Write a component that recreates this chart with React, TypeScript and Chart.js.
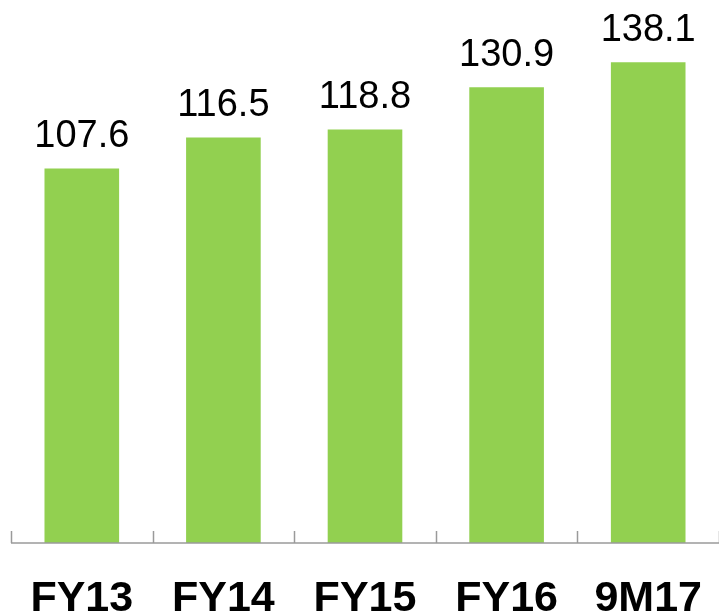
import React, { useEffect, useRef } from "react";
import { Chart, registerables } from "chart.js";

Chart.register(...registerables);

const categories = ["FY13", "FY14", "FY15", "FY16", "9M17"];
const values = [107.6, 116.5, 118.8, 130.9, 138.1];
const barColor = "#92D050";

const annotatePlugin = {
  id: "annotate",
  afterDatasetsDraw(chart: any) {
    const { ctx, chartArea, scales } = chart;
    const x = scales.x;
    const n = categories.length;
    const step = (chartArea.right - chartArea.left) / n;
    ctx.save();
    // axis line and ticks
    ctx.strokeStyle = "#9A9A9A";
    ctx.lineWidth = 1.5;
    ctx.beginPath();
    ctx.moveTo(chartArea.left, chartArea.bottom);
    ctx.lineTo(chartArea.right, chartArea.bottom);
    for (let i = 0; i <= n; i++) {
      const tx = Math.round(chartArea.left + i * step) + 0.5;
      ctx.moveTo(tx, chartArea.bottom);
      ctx.lineTo(tx, chartArea.bottom - 12);
    }
    ctx.stroke();
    // category labels
    ctx.fillStyle = "#000";
    ctx.textAlign = "center";
    ctx.textBaseline = "alphabetic";
    ctx.font = "bold 43px 'Liberation Sans', Arial, sans-serif";
    categories.forEach((c, i) => {
      ctx.fillText(c, x.getPixelForValue(i), chartArea.bottom + 68);
    });
    // value labels
    ctx.font = "38px 'Liberation Sans', Arial, sans-serif";
    const meta = chart.getDatasetMeta(0);
    meta.data.forEach((bar: any, i: number) => {
      ctx.fillText(values[i].toFixed(1), bar.x, bar.y - 21);
    });
    ctx.restore();
  },
};

export default function App() {
  const ref = useRef<HTMLCanvasElement>(null);
  useEffect(() => {
    if (!ref.current) return;
    const chart = new Chart(ref.current, {
      type: "bar",
      data: {
        labels: categories,
        datasets: [
          {
            data: values,
            backgroundColor: barColor,
            borderWidth: 0,
            categoryPercentage: 1,
            barPercentage: 0.527,
          },
        ],
      },
      options: {
        responsive: false,
        animation: false,
        layout: { padding: { left: 11, right: 0, top: 0, bottom: 70 } },
        plugins: { legend: { display: false }, tooltip: { enabled: false } },
        scales: {
          x: { display: false },
          y: { display: false, min: 0, max: 156 },
        },
      },
      plugins: [annotatePlugin],
    });
    return () => chart.destroy();
  }, []);
  return (
    <div style={{ position: "absolute", left: 0, top: 0, width: 719, height: 613, background: "#fff" }}>
      <canvas ref={ref} width={719} height={613} />
    </div>
  );
}
